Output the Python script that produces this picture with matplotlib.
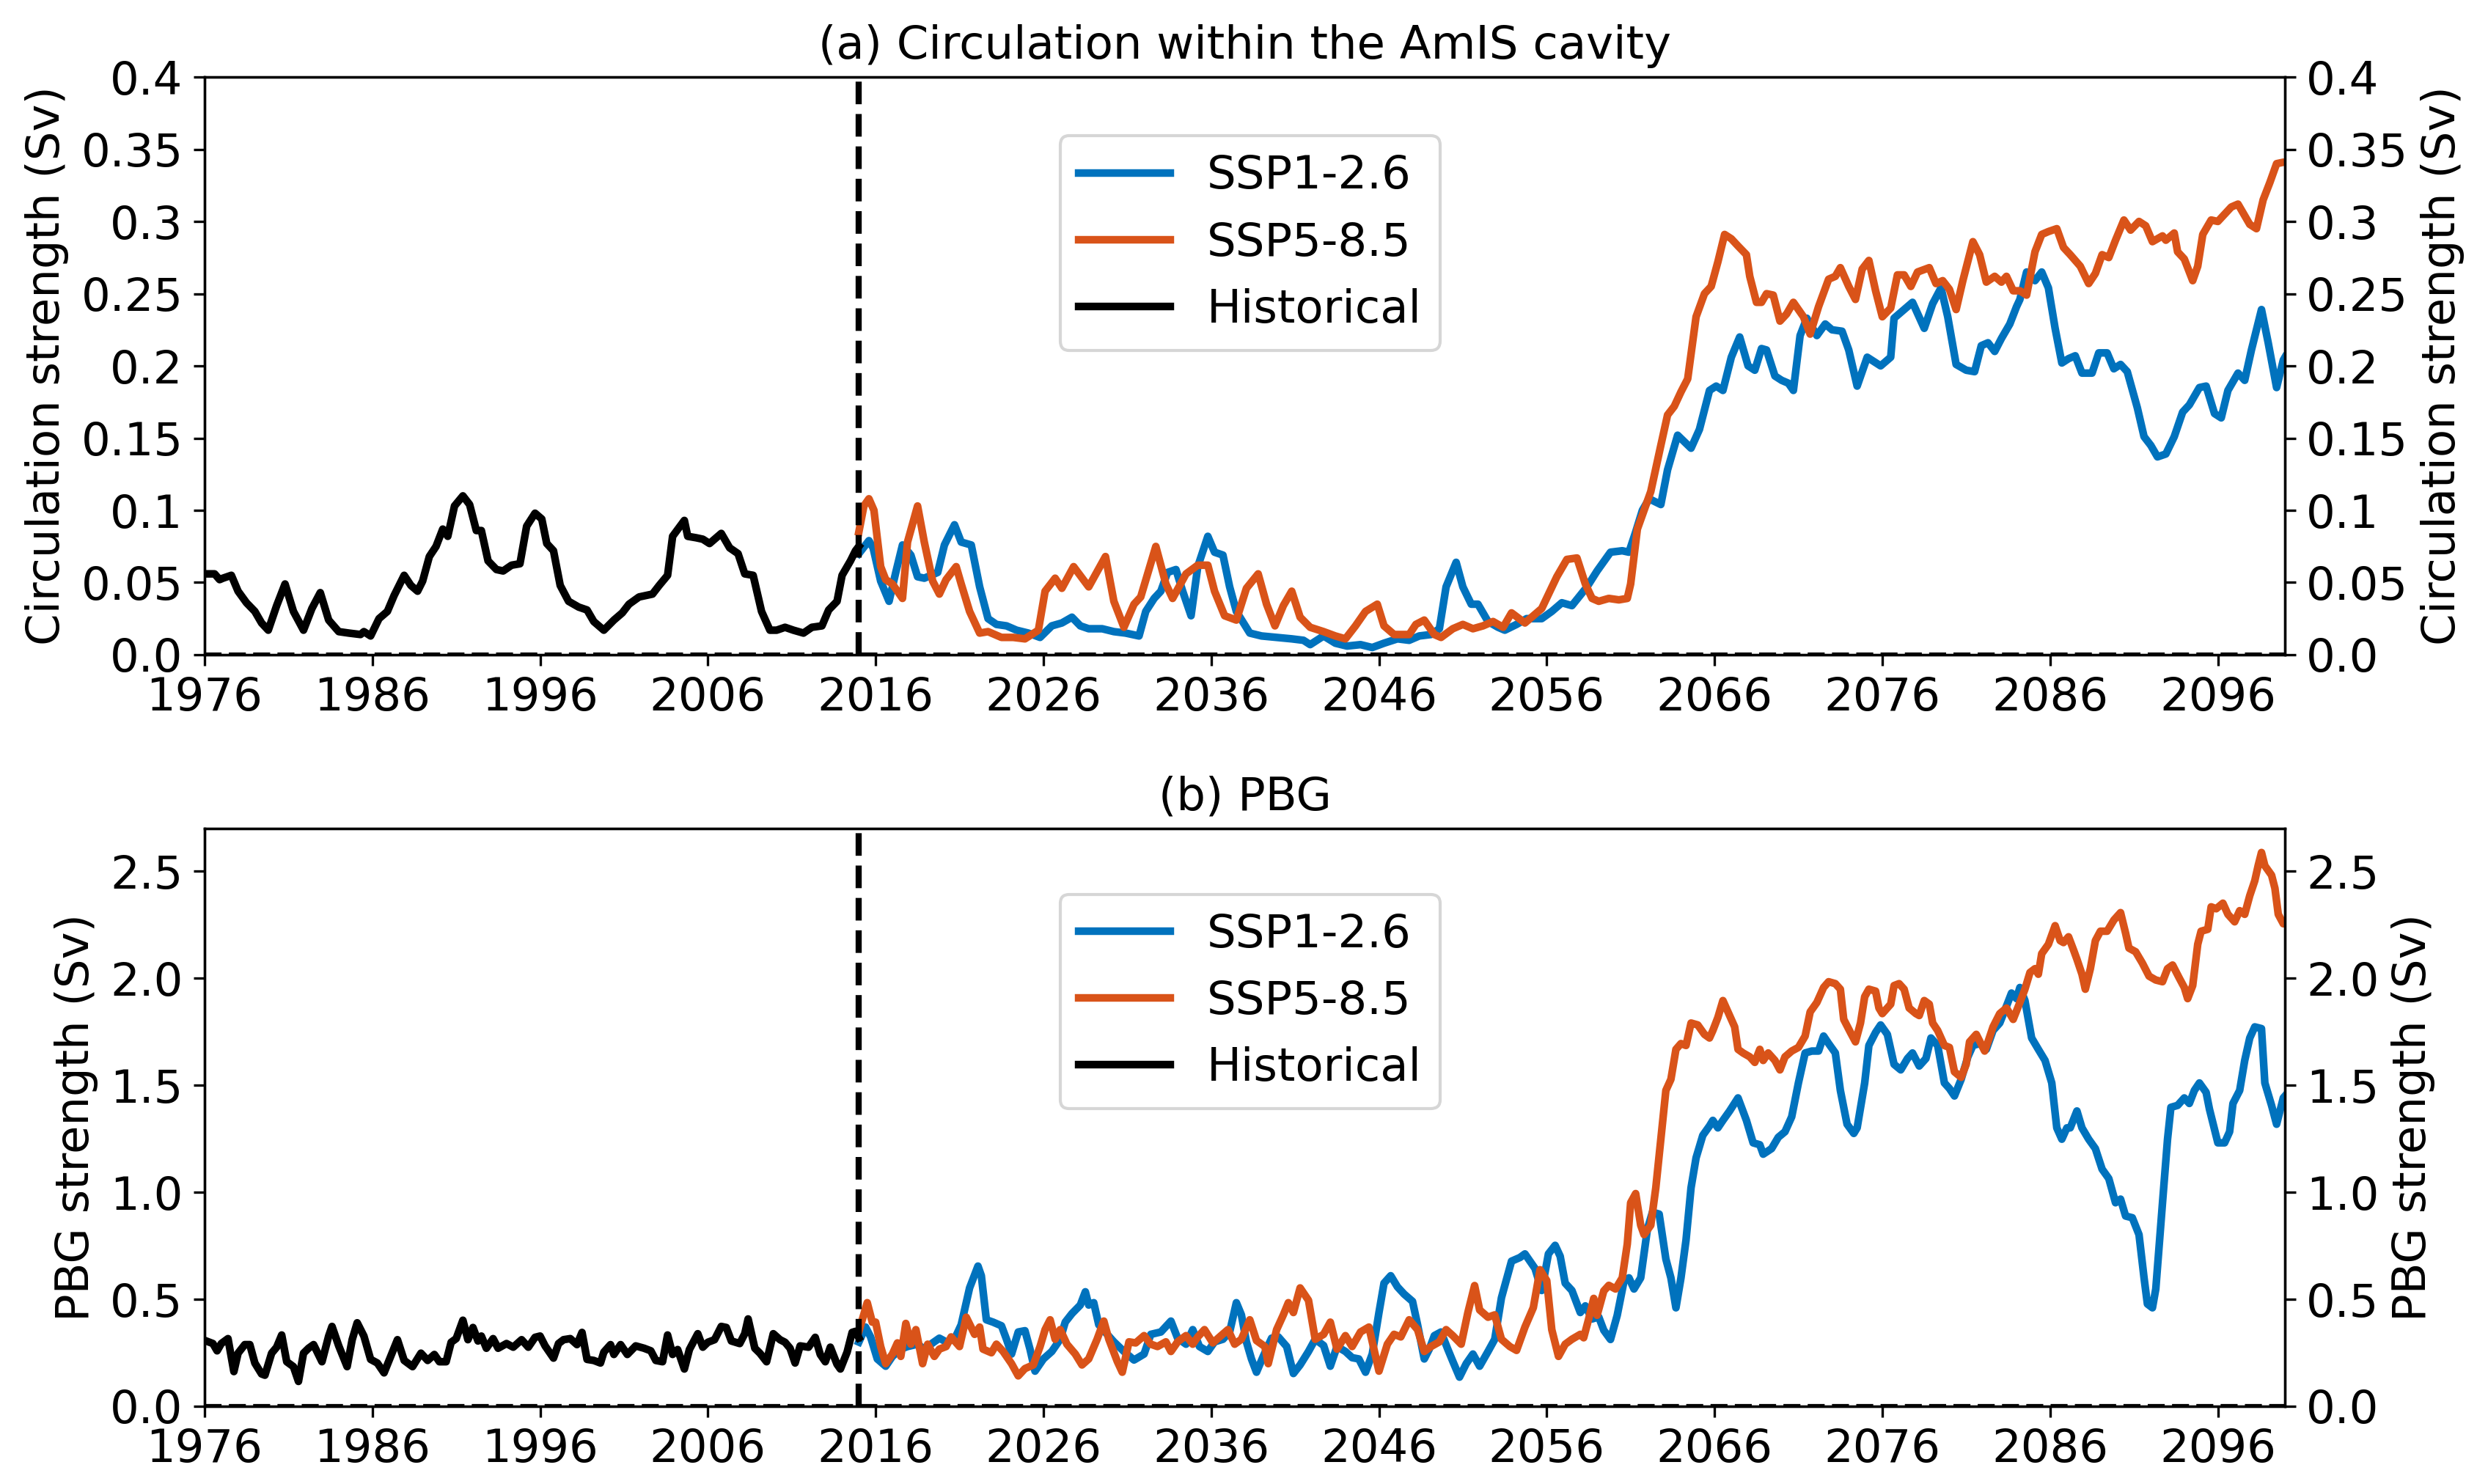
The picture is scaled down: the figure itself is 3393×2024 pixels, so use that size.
import matplotlib
matplotlib.use('Agg')
import matplotlib.pyplot as plt

# ---- panel (a): circulation within the AmIS cavity (Sv) ----
hist_year_a = [1976.0, 1976.6, 1976.9, 1977.1, 1977.6, 1978.0, 1978.5, 1979.0, 1979.4, 1979.8,
               1980.3, 1980.8, 1981.3, 1981.9, 1982.4, 1982.9, 1983.4, 1984.0, 1984.6, 1985.3,
               1985.5, 1985.9, 1986.4, 1986.9, 1987.3, 1987.9, 1988.3, 1988.7, 1989.0, 1989.4,
               1989.8, 1990.2, 1990.5, 1990.9, 1991.4, 1991.8, 1992.2, 1992.5, 1992.9, 1993.4,
               1993.8, 1994.3, 1994.8, 1995.2, 1995.7, 1996.1, 1996.4, 1996.8, 1997.2, 1997.7,
               1998.3, 1998.8, 1999.2, 1999.8, 2000.4, 2000.9, 2001.3, 2001.9, 2002.7, 2003.1,
               2003.6, 2003.9, 2004.6, 2004.8, 2005.3, 2005.7, 2006.1, 2006.4, 2006.8, 2007.3,
               2007.8, 2008.2, 2008.7, 2009.2, 2009.7, 2010.1, 2010.6, 2011.1, 2011.7, 2012.2,
               2012.8, 2013.2, 2013.7, 2014.0, 2014.5, 2014.8, 2015.0]
hist_circ = [0.056, 0.056, 0.052, 0.053, 0.055, 0.044, 0.036, 0.030, 0.022, 0.017,
             0.034, 0.049, 0.030, 0.017, 0.032, 0.043, 0.024, 0.016, 0.015, 0.014,
             0.016, 0.013, 0.025, 0.030, 0.041, 0.055, 0.048, 0.044, 0.051, 0.068,
             0.075, 0.087, 0.082, 0.103, 0.110, 0.104, 0.086, 0.086, 0.065, 0.059,
             0.058, 0.062, 0.063, 0.089, 0.098, 0.094, 0.077, 0.072, 0.048, 0.037,
             0.033, 0.031, 0.023, 0.017, 0.024, 0.029, 0.035, 0.040, 0.042, 0.048,
             0.055, 0.082, 0.093, 0.082, 0.081, 0.080, 0.077, 0.080, 0.084, 0.074,
             0.070, 0.056, 0.055, 0.030, 0.017, 0.017, 0.019, 0.017, 0.015, 0.019,
             0.020, 0.031, 0.037, 0.055, 0.065, 0.072, 0.075]

ssp126_year_a = [2015.0, 2015.6, 2015.85, 2016.3, 2016.8, 2017.2, 2017.6, 2018.1, 2018.5, 2018.9,
                 2019.7, 2020.1, 2020.7, 2021.1, 2021.7, 2022.2, 2022.7, 2023.2, 2023.8, 2024.4,
                 2025.1, 2025.8, 2026.5, 2027.1, 2027.7, 2028.2, 2028.7, 2029.5, 2030.2, 2030.9,
                 2031.7, 2032.1, 2032.6, 2033.0, 2033.4, 2033.9, 2034.3, 2034.8, 2035.2, 2035.8,
                 2036.2, 2036.7, 2037.1, 2037.5, 2038.3, 2039.0, 2039.9, 2040.8, 2041.5, 2041.9,
                 2042.7, 2043.4, 2044.1, 2044.9, 2045.6, 2046.3, 2047.1, 2047.8, 2048.4, 2049.1,
                 2049.6, 2050.0, 2050.6, 2051.0, 2051.5, 2051.9, 2052.5, 2053.1, 2053.5, 2054.2,
                 2054.8, 2055.7, 2056.3, 2056.9, 2057.5, 2058.4, 2059.0, 2059.8, 2060.5, 2060.9,
                 2061.3, 2061.7, 2062.1, 2062.8, 2063.2, 2063.8, 2064.6, 2065.1, 2065.7, 2066.1,
                 2066.5, 2067.0, 2067.5, 2068.0, 2068.4, 2068.8, 2069.1, 2069.6, 2070.0, 2070.4,
                 2070.7, 2071.1, 2071.5, 2072.1, 2072.6, 2073.0, 2073.6, 2074.0, 2074.5, 2075.1,
                 2075.9, 2076.5, 2076.7, 2077.3, 2077.8, 2078.5, 2079.0, 2079.5, 2079.9, 2080.4,
                 2081.0, 2081.5, 2081.9, 2082.3, 2082.7, 2083.1, 2083.6, 2084.0, 2084.2, 2084.6,
                 2085.1, 2085.5, 2085.9, 2086.3, 2086.7, 2087.1, 2087.5, 2087.9, 2088.5, 2088.9,
                 2089.4, 2089.8, 2090.2, 2090.6, 2091.2, 2091.6, 2092.0, 2092.4, 2092.9, 2093.4,
                 2093.9, 2094.3, 2094.9, 2095.3, 2095.8, 2096.2, 2096.6, 2097.2, 2097.6, 2098.0,
                 2098.6, 2099.0, 2099.5, 2099.9, 2100.0]
ssp126_circ = [0.070, 0.079, 0.074, 0.051, 0.037, 0.057, 0.076, 0.069, 0.054, 0.053,
               0.057, 0.076, 0.090, 0.078, 0.076, 0.047, 0.025, 0.021, 0.020, 0.017,
               0.015, 0.012, 0.020, 0.022, 0.026, 0.020, 0.018, 0.018, 0.016, 0.015,
               0.013, 0.030, 0.039, 0.044, 0.057, 0.059, 0.044, 0.027, 0.061, 0.082,
               0.071, 0.069, 0.047, 0.030, 0.015, 0.013, 0.012, 0.011, 0.010, 0.007,
               0.013, 0.008, 0.006, 0.007, 0.005, 0.008, 0.011, 0.010, 0.013, 0.014,
               0.018, 0.047, 0.064, 0.047, 0.035, 0.035, 0.023, 0.019, 0.017, 0.021,
               0.025, 0.025, 0.030, 0.036, 0.034, 0.047, 0.058, 0.071, 0.072, 0.071,
               0.085, 0.100, 0.108, 0.104, 0.128, 0.152, 0.143, 0.156, 0.183, 0.186,
               0.183, 0.206, 0.220, 0.200, 0.197, 0.212, 0.211, 0.193, 0.190, 0.188,
               0.183, 0.221, 0.233, 0.221, 0.229, 0.225, 0.224, 0.211, 0.186, 0.206,
               0.200, 0.206, 0.233, 0.239, 0.244, 0.226, 0.243, 0.254, 0.234, 0.201,
               0.197, 0.196, 0.214, 0.216, 0.210, 0.219, 0.229, 0.241, 0.246, 0.265,
               0.259, 0.265, 0.254, 0.226, 0.202, 0.205, 0.207, 0.195, 0.195, 0.209,
               0.209, 0.198, 0.201, 0.196, 0.171, 0.151, 0.145, 0.137, 0.139, 0.151,
               0.168, 0.173, 0.185, 0.186, 0.167, 0.164, 0.183, 0.195, 0.190, 0.211,
               0.239, 0.216, 0.185, 0.204, 0.206]

ssp585_year_a = [2015.0, 2015.3, 2015.6, 2015.9, 2016.3, 2016.6, 2017.0, 2017.6, 2017.9, 2018.5,
                 2018.9, 2019.4, 2019.8, 2020.2, 2020.8, 2021.1, 2021.6, 2022.2, 2022.7, 2023.5,
                 2024.2, 2024.9, 2025.7, 2026.1, 2026.7, 2027.1, 2027.8, 2028.7, 2029.7, 2030.2,
                 2030.8, 2031.4, 2031.8, 2032.7, 2033.3, 2033.7, 2034.5, 2035.2, 2035.8, 2036.2,
                 2036.8, 2037.5, 2038.1, 2038.8, 2039.3, 2039.8, 2040.3, 2040.8, 2041.3, 2041.9,
                 2042.7, 2043.4, 2044.0, 2044.6, 2045.2, 2045.9, 2046.3, 2046.9, 2047.8, 2048.2,
                 2048.7, 2049.3, 2049.7, 2050.4, 2051.0, 2051.6, 2052.2, 2052.8, 2053.4, 2053.9,
                 2054.7, 2055.1, 2055.7, 2056.6, 2057.2, 2057.8, 2058.3, 2058.7, 2059.1, 2059.7,
                 2060.3, 2060.8, 2061.0, 2061.4, 2061.8, 2062.2, 2062.8, 2063.2, 2063.6, 2064.0,
                 2064.4, 2064.9, 2065.4, 2065.8, 2066.2, 2066.6, 2067.0, 2067.4, 2067.9, 2068.1,
                 2068.5, 2068.8, 2069.1, 2069.5, 2069.9, 2070.3, 2070.7, 2071.3, 2071.7, 2072.2,
                 2072.8, 2073.2, 2073.5, 2074.0, 2074.4, 2074.8, 2075.2, 2075.6, 2076.0, 2076.5,
                 2076.9, 2077.3, 2077.7, 2078.1, 2078.8, 2079.2, 2079.6, 2080.0, 2080.4, 2080.8,
                 2081.4, 2081.8, 2082.2, 2082.7, 2083.1, 2083.4, 2083.8, 2084.2, 2084.6, 2085.1,
                 2085.5, 2085.9, 2086.4, 2086.8, 2087.2, 2087.8, 2088.3, 2088.7, 2089.1, 2089.5,
                 2089.9, 2090.4, 2090.8, 2091.3, 2091.7, 2092.1, 2092.7, 2092.9, 2093.4, 2093.6,
                 2094.0, 2094.5, 2094.8, 2095.1, 2095.6, 2096.0, 2096.4, 2096.8, 2097.2, 2097.5,
                 2097.9, 2098.3, 2098.7, 2099.1, 2099.5, 2099.9, 2100.0]
ssp585_circ = [0.085, 0.103, 0.108, 0.100, 0.061, 0.052, 0.049, 0.039, 0.078, 0.103,
               0.078, 0.051, 0.042, 0.052, 0.061, 0.049, 0.030, 0.015, 0.016, 0.012,
               0.012, 0.011, 0.017, 0.044, 0.053, 0.046, 0.061, 0.047, 0.068, 0.037,
               0.019, 0.035, 0.040, 0.075, 0.049, 0.039, 0.056, 0.062, 0.062, 0.044,
               0.027, 0.024, 0.046, 0.056, 0.035, 0.020, 0.034, 0.044, 0.026, 0.019,
               0.016, 0.013, 0.011, 0.020, 0.030, 0.035, 0.020, 0.014, 0.014, 0.021,
               0.024, 0.014, 0.012, 0.018, 0.021, 0.018, 0.020, 0.023, 0.019, 0.029,
               0.022, 0.026, 0.032, 0.054, 0.066, 0.067, 0.049, 0.039, 0.037, 0.039,
               0.038, 0.039, 0.049, 0.087, 0.100, 0.113, 0.145, 0.166, 0.172, 0.182,
               0.191, 0.234, 0.250, 0.255, 0.272, 0.291, 0.288, 0.283, 0.277, 0.262,
               0.244, 0.244, 0.250, 0.249, 0.231, 0.236, 0.244, 0.234, 0.222, 0.241,
               0.260, 0.262, 0.268, 0.255, 0.246, 0.267, 0.273, 0.252, 0.234, 0.240,
               0.263, 0.263, 0.255, 0.265, 0.268, 0.257, 0.259, 0.253, 0.239, 0.259,
               0.286, 0.277, 0.258, 0.262, 0.258, 0.262, 0.252, 0.252, 0.249, 0.279,
               0.291, 0.293, 0.295, 0.282, 0.277, 0.269, 0.257, 0.264, 0.277, 0.275,
               0.287, 0.301, 0.294, 0.300, 0.297, 0.286, 0.290, 0.287, 0.292, 0.279,
               0.274, 0.259, 0.269, 0.291, 0.301, 0.300, 0.305, 0.310, 0.312, 0.306,
               0.298, 0.295, 0.315, 0.327, 0.340, 0.341, 0.341]

# ---- panel (b): PBG strength (Sv) ----
hist_year_b = [1976.1, 1976.5, 1976.75, 1977.0, 1977.4, 1977.75, 1978.0, 1978.4, 1978.7, 1979.0,
               1979.4, 1979.6, 1980.0, 1980.3, 1980.6, 1980.9, 1981.3, 1981.6, 1981.9, 1982.2,
               1982.5, 1983.0, 1983.4, 1983.6, 1984.0, 1984.5, 1984.8, 1985.1, 1985.5, 1985.9,
               1986.3, 1986.7, 1987.2, 1987.5, 1987.9, 1988.4, 1988.9, 1989.3, 1989.7, 1990.0,
               1990.4, 1990.7, 1991.0, 1991.4, 1991.7, 1992.0, 1992.3, 1992.5, 1992.8, 1993.2,
               1993.5, 1994.0, 1994.4, 1994.9, 1995.3, 1995.7, 1996.0, 1996.3, 1996.8, 1997.1,
               1997.4, 1997.8, 1998.2, 1998.5, 1998.8, 1999.2, 1999.6, 1999.8, 2000.2, 2000.4,
               2000.8, 2001.2, 2001.7, 2002.2, 2002.6, 2002.9, 2003.3, 2003.6, 2003.9, 2004.2,
               2004.6, 2004.9, 2005.4, 2005.7, 2006.0, 2006.4, 2006.8, 2007.1, 2007.4, 2007.9,
               2008.2, 2008.4, 2008.8, 2009.1, 2009.5, 2009.9, 2010.3, 2010.6, 2010.9, 2011.2,
               2011.5, 2012.0, 2012.4, 2012.7, 2013.0, 2013.3, 2013.7, 2013.9, 2014.3, 2014.6,
               2014.8, 2015.0]
hist_pbg = [0.305, 0.293, 0.259, 0.293, 0.316, 0.162, 0.248, 0.288, 0.288, 0.202,
            0.151, 0.145, 0.248, 0.276, 0.333, 0.208, 0.185, 0.116, 0.248, 0.271,
            0.288, 0.208, 0.328, 0.373, 0.282, 0.185, 0.311, 0.390, 0.328, 0.219,
            0.202, 0.156, 0.253, 0.311, 0.214, 0.185, 0.248, 0.214, 0.242, 0.208,
            0.208, 0.299, 0.316, 0.402, 0.311, 0.368, 0.305, 0.328, 0.271, 0.316,
            0.271, 0.293, 0.276, 0.311, 0.276, 0.322, 0.328, 0.282, 0.225, 0.293,
            0.311, 0.316, 0.288, 0.345, 0.219, 0.214, 0.202, 0.253, 0.288, 0.242,
            0.288, 0.242, 0.282, 0.271, 0.259, 0.214, 0.208, 0.333, 0.242, 0.265,
            0.174, 0.265, 0.339, 0.276, 0.299, 0.311, 0.373, 0.368, 0.305, 0.293,
            0.339, 0.408, 0.271, 0.248, 0.208, 0.339, 0.311, 0.299, 0.271, 0.202,
            0.282, 0.276, 0.322, 0.242, 0.208, 0.276, 0.196, 0.174, 0.253, 0.345,
            0.350, 0.320]

ssp126_year_b = [2015.0, 2015.4, 2015.7, 2016.1, 2016.6, 2017.0, 2017.5, 2017.9, 2018.5, 2018.9,
                 2019.4, 2019.8, 2020.2, 2020.7, 2021.1, 2021.6, 2022.1, 2022.3, 2022.6, 2023.0,
                 2023.5, 2023.8, 2024.1, 2024.5, 2024.9, 2025.2, 2025.5, 2026.0, 2026.5, 2027.0,
                 2027.3, 2027.7, 2028.2, 2028.5, 2028.7, 2029.0, 2029.3, 2029.8, 2030.2, 2030.8,
                 2031.4, 2032.0, 2032.4, 2033.0, 2033.6, 2034.0, 2034.5, 2034.9, 2035.3, 2035.8,
                 2036.2, 2036.7, 2037.1, 2037.5, 2037.8, 2038.1, 2038.4, 2038.7, 2039.1, 2039.6,
                 2040.0, 2040.5, 2040.9, 2041.3, 2041.8, 2042.2, 2042.7, 2043.1, 2043.5, 2044.0,
                 2044.4, 2044.8, 2045.2, 2045.6, 2046.0, 2046.3, 2046.7, 2047.1, 2047.5, 2048.0,
                 2048.3, 2048.7, 2049.0, 2049.3, 2049.7, 2050.1, 2050.4, 2050.8, 2051.2, 2051.6,
                 2052.0, 2052.5, 2052.9, 2053.3, 2053.9, 2054.4, 2054.7, 2055.0, 2055.3, 2055.7,
                 2056.1, 2056.5, 2056.8, 2057.1, 2057.5, 2058.0, 2058.3, 2058.7, 2059.1, 2059.4,
                 2059.8, 2060.2, 2060.6, 2060.9, 2061.2, 2061.6, 2062.0, 2062.3, 2062.7, 2063.1,
                 2063.4, 2063.7, 2064.0, 2064.3, 2064.6, 2064.9, 2065.3, 2065.7, 2065.9, 2066.2,
                 2066.5, 2066.9, 2067.4, 2067.9, 2068.3, 2068.7, 2068.9, 2069.4, 2069.8, 2070.2,
                 2070.6, 2071.0, 2071.4, 2071.8, 2072.2, 2072.5, 2072.8, 2073.2, 2073.5, 2073.9,
                 2074.3, 2074.5, 2074.95, 2075.2, 2075.6, 2075.9, 2076.3, 2076.7, 2077.1, 2077.5,
                 2077.8, 2078.2, 2078.6, 2078.9, 2079.3, 2079.7, 2080.0, 2080.3, 2080.7, 2081.1,
                 2081.4, 2081.8, 2082.2, 2082.6, 2083.0, 2083.4, 2083.7, 2084.0, 2084.2, 2084.5,
                 2084.9, 2085.3, 2085.7, 2086.1, 2086.4, 2086.7, 2087.0, 2087.2, 2087.6, 2087.9,
                 2088.3, 2088.7, 2089.1, 2089.5, 2089.9, 2090.2, 2090.5, 2090.9, 2091.3, 2091.6,
                 2091.8, 2092.1, 2092.3, 2092.7, 2093.0, 2093.2, 2093.6, 2094.0, 2094.3, 2094.6,
                 2094.9, 2095.3, 2095.5, 2096.0, 2096.4, 2096.7, 2096.9, 2097.3, 2097.6, 2097.9,
                 2098.2, 2098.6, 2098.8, 2099.2, 2099.5, 2099.9, 2100.0]
ssp126_pbg = [0.300, 0.370, 0.324, 0.221, 0.187, 0.233, 0.267, 0.279, 0.290, 0.267,
              0.296, 0.318, 0.301, 0.313, 0.381, 0.553, 0.655, 0.610, 0.404, 0.393,
              0.376, 0.313, 0.244, 0.347, 0.353, 0.267, 0.164, 0.221, 0.256, 0.313,
              0.393, 0.433, 0.473, 0.535, 0.473, 0.484, 0.381, 0.336, 0.301, 0.256,
              0.216, 0.244, 0.336, 0.347, 0.398, 0.318, 0.290, 0.358, 0.279, 0.256,
              0.301, 0.313, 0.347, 0.484, 0.427, 0.301, 0.221, 0.159, 0.233, 0.318,
              0.324, 0.279, 0.153, 0.193, 0.256, 0.313, 0.284, 0.187, 0.279, 0.256,
              0.227, 0.221, 0.159, 0.244, 0.438, 0.575, 0.610, 0.558, 0.524, 0.490,
              0.381, 0.221, 0.267, 0.330, 0.347, 0.267, 0.210, 0.136, 0.199, 0.244,
              0.187, 0.256, 0.313, 0.507, 0.678, 0.695, 0.712, 0.678, 0.644, 0.541,
              0.712, 0.752, 0.701, 0.575, 0.541, 0.438, 0.469, 0.408, 0.417, 0.355,
              0.312, 0.425, 0.583, 0.600, 0.548, 0.600, 0.828, 0.907, 0.898, 0.688,
              0.600, 0.460, 0.600, 0.776, 1.021, 1.161, 1.266, 1.310, 1.336, 1.301,
              1.336, 1.380, 1.441, 1.336, 1.231, 1.222, 1.178, 1.204, 1.257, 1.283,
              1.353, 1.511, 1.651, 1.660, 1.660, 1.730, 1.695, 1.651, 1.476, 1.318,
              1.275, 1.301, 1.511, 1.686, 1.747, 1.782, 1.738, 1.598, 1.572, 1.625,
              1.651, 1.590, 1.625, 1.721, 1.686, 1.511, 1.485, 1.450, 1.528, 1.633,
              1.686, 1.695, 1.668, 1.756, 1.791, 1.870, 1.931, 1.905, 1.957, 1.896,
              1.721, 1.668, 1.616, 1.511, 1.301, 1.248, 1.301, 1.301, 1.380, 1.301,
              1.248, 1.204, 1.108, 1.064, 0.951, 0.968, 0.889, 0.881, 0.802, 0.600,
              0.478, 0.460, 0.548, 0.951, 1.248, 1.397, 1.406, 1.441, 1.415, 1.476,
              1.511, 1.467, 1.388, 1.231, 1.231, 1.283, 1.415, 1.476, 1.616, 1.721,
              1.773, 1.765, 1.511, 1.406, 1.318, 1.441, 1.450]

ssp585_year_b = [2015.0, 2015.5, 2015.8, 2016.0, 2016.3, 2016.6, 2017.0, 2017.3, 2017.5, 2017.8,
                 2018.1, 2018.4, 2018.8, 2019.1, 2019.5, 2019.8, 2020.2, 2020.5, 2021.0, 2021.4,
                 2021.9, 2022.2, 2022.4, 2022.9, 2023.2, 2023.6, 2024.1, 2024.5, 2024.9, 2025.4,
                 2025.8, 2026.1, 2026.4, 2026.7, 2027.0, 2027.4, 2027.9, 2028.3, 2028.7, 2029.2,
                 2029.6, 2029.9, 2030.4, 2030.7, 2031.1, 2031.5, 2032.0, 2032.4, 2032.8, 2033.3,
                 2033.6, 2034.0, 2034.5, 2034.9, 2035.2, 2035.6, 2036.1, 2036.5, 2037.0, 2037.4,
                 2037.8, 2038.3, 2038.7, 2039.2, 2039.4, 2039.9, 2040.3, 2040.6, 2040.9, 2041.3,
                 2041.8, 2042.2, 2042.7, 2043.1, 2043.5, 2044.0, 2044.4, 2044.9, 2045.4, 2046.0,
                 2046.5, 2046.9, 2047.3, 2047.8, 2048.3, 2048.7, 2049.1, 2049.6, 2050.0, 2050.4,
                 2050.9, 2051.3, 2051.7, 2052.0, 2052.5, 2052.9, 2053.3, 2053.8, 2054.2, 2054.7,
                 2055.2, 2055.6, 2056.0, 2056.3, 2056.7, 2057.1, 2057.5, 2058.0, 2058.2, 2058.5,
                 2058.8, 2059.0, 2059.4, 2059.7, 2060.1, 2060.5, 2060.8, 2061.0, 2061.3, 2061.6,
                 2061.8, 2062.2, 2062.5, 2062.8, 2063.1, 2063.4, 2063.7, 2064.0, 2064.3, 2064.6,
                 2065.0, 2065.4, 2065.7, 2065.9, 2066.2, 2066.5, 2066.8, 2067.2, 2067.4, 2067.7,
                 2068.1, 2068.4, 2068.7, 2068.9, 2069.2, 2069.6, 2069.9, 2070.2, 2070.6, 2071.0,
                 2071.4, 2071.7, 2072.1, 2072.5, 2072.8, 2073.2, 2073.5, 2073.7, 2074.1, 2074.4,
                 2074.7, 2074.95, 2075.2, 2075.6, 2075.8, 2076.0, 2076.5, 2076.7, 2077.0, 2077.3,
                 2077.6, 2078.0, 2078.2, 2078.5, 2078.8, 2079.0, 2079.3, 2079.7, 2080.0, 2080.3,
                 2080.7, 2081.0, 2081.2, 2081.6, 2082.1, 2082.3, 2082.6, 2083.0, 2083.4, 2083.8,
                 2084.2, 2084.5, 2084.8, 2085.1, 2085.3, 2085.5, 2085.9, 2086.3, 2086.6, 2086.8,
                 2087.1, 2087.4, 2087.6, 2087.9, 2088.1, 2088.4, 2088.7, 2089.0, 2089.4, 2089.8,
                 2090.2, 2090.5, 2090.7, 2091.1, 2091.5, 2091.9, 2092.3, 2092.7, 2093.0, 2093.3,
                 2093.7, 2094.0, 2094.2, 2094.5, 2094.8, 2095.0, 2095.4, 2095.6, 2095.9, 2096.3,
                 2096.6, 2097.0, 2097.3, 2097.6, 2097.9, 2098.2, 2098.4, 2098.6, 2098.8, 2099.2,
                 2099.4, 2099.6, 2099.9, 2100.0]
ssp585_pbg = [0.350, 0.484, 0.393, 0.393, 0.279, 0.199, 0.244, 0.296, 0.233, 0.387,
              0.290, 0.358, 0.199, 0.290, 0.233, 0.267, 0.279, 0.324, 0.279, 0.416,
              0.336, 0.370, 0.267, 0.250, 0.290, 0.256, 0.199, 0.142, 0.176, 0.193,
              0.279, 0.358, 0.404, 0.313, 0.358, 0.290, 0.244, 0.193, 0.221, 0.313,
              0.398, 0.313, 0.210, 0.159, 0.301, 0.296, 0.330, 0.290, 0.279, 0.301,
              0.256, 0.301, 0.330, 0.290, 0.324, 0.358, 0.296, 0.324, 0.358, 0.290,
              0.313, 0.404, 0.307, 0.279, 0.199, 0.358, 0.427, 0.484, 0.438, 0.553,
              0.495, 0.313, 0.336, 0.393, 0.267, 0.330, 0.279, 0.347, 0.370, 0.164,
              0.290, 0.336, 0.324, 0.404, 0.358, 0.256, 0.279, 0.301, 0.358, 0.330,
              0.290, 0.438, 0.564, 0.450, 0.416, 0.427, 0.313, 0.279, 0.261, 0.370,
              0.461, 0.638, 0.587, 0.358, 0.233, 0.290, 0.313, 0.336, 0.320, 0.408,
              0.504, 0.425, 0.539, 0.565, 0.548, 0.600, 0.758, 0.951, 0.994, 0.846,
              0.802, 0.846, 1.021, 1.248, 1.476, 1.528, 1.668, 1.695, 1.686, 1.791,
              1.782, 1.738, 1.721, 1.756, 1.817, 1.896, 1.843, 1.773, 1.668, 1.651,
              1.633, 1.607, 1.668, 1.616, 1.651, 1.616, 1.572, 1.633, 1.660, 1.677,
              1.730, 1.843, 1.887, 1.957, 1.984, 1.975, 1.949, 1.808, 1.747, 1.703,
              1.791, 1.914, 1.949, 1.940, 1.861, 1.835, 1.879, 1.966, 1.975, 1.949,
              1.861, 1.835, 1.826, 1.896, 1.879, 1.791, 1.756, 1.686, 1.677, 1.563,
              1.537, 1.598, 1.703, 1.738, 1.660, 1.703, 1.773, 1.835, 1.861, 1.808,
              1.887, 1.949, 2.027, 2.045, 2.019, 2.115, 2.159, 2.246, 2.176, 2.167,
              2.194, 2.132, 2.089, 2.019, 1.949, 2.045, 2.176, 2.220, 2.220, 2.272,
              2.307, 2.211, 2.141, 2.124, 2.071, 2.010, 1.992, 1.984, 2.045, 2.062,
              2.001, 1.957, 1.905, 1.966, 2.159, 2.220, 2.229, 2.334, 2.325, 2.351,
              2.299, 2.264, 2.316, 2.299, 2.386, 2.456, 2.526, 2.588, 2.526, 2.482,
              2.421, 2.299, 2.255, 2.255]

year_ticks = [1976, 1986, 1996, 2006, 2016, 2026, 2036, 2046, 2056, 2066, 2076, 2086, 2096]
circ_ticks = [0.0, 0.05, 0.1, 0.15, 0.2, 0.25, 0.3, 0.35, 0.4]
circ_tick_labels = ['0.0', '0.05', '0.1', '0.15', '0.2', '0.25', '0.3', '0.35', '0.4']
pbg_ticks = [0.0, 0.5, 1.0, 1.5, 2.0, 2.5]
pbg_tick_labels = ['0.0', '0.5', '1.0', '1.5', '2.0', '2.5']

blue = '#0072BD'
orange = '#D95319'
lw = 2.5

plt.rcParams['font.size'] = 15
fig = plt.figure(figsize=(3393 / 300, 2024 / 300), dpi=300)


def draw_panel(rect, hyear, hval, y1, v1, y5, v5, ylim, ticks, labels, ylabel, title, leg_y):
    ax = fig.add_axes(rect)
    ax.plot(y1, v1, color=blue, lw=lw, label='SSP1-2.6')
    ax.plot(y5, v5, color=orange, lw=lw, label='SSP5-8.5')
    ax.plot(hyear, hval, color='k', lw=lw, label='Historical')
    ax.axvline(2015, color='k', ls='--', lw=2)
    ax.axhline(0, color='k', ls='--', lw=1.5)
    ax.set_xlim(1976, 2100)
    ax.set_ylim(ylim)
    ax.set_xticks(year_ticks)
    ax.set_yticks(ticks)
    ax.set_yticklabels(labels)
    ax.set_ylabel(ylabel)
    ax.set_title(title, fontsize=15)
    ax.legend(loc='upper center', bbox_to_anchor=(0.5025, leg_y), borderaxespad=0)
    ax2 = ax.twinx()
    ax2.set_ylim(ylim)
    ax2.set_yticks(ticks)
    ax2.set_yticklabels(labels)
    ax2.set_ylabel(ylabel)
    return ax


draw_panel([0.0822, 0.5588, 0.8362, 0.3893], hist_year_a, hist_circ,
           ssp126_year_a, ssp126_circ, ssp585_year_a, ssp585_circ,
           (0, 0.4), circ_ticks, circ_tick_labels,
           'Circulation strength (Sv)', '(a) Circulation within the AmIS cavity', 0.898)
draw_panel([0.0822, 0.0524, 0.8362, 0.3893], hist_year_b, hist_pbg,
           ssp126_year_b, ssp126_pbg, ssp585_year_b, ssp585_pbg,
           (0, 2.7), pbg_ticks, pbg_tick_labels,
           'PBG strength (Sv)', '(b) PBG', 0.886)

fig.savefig('out.png', dpi=300)
